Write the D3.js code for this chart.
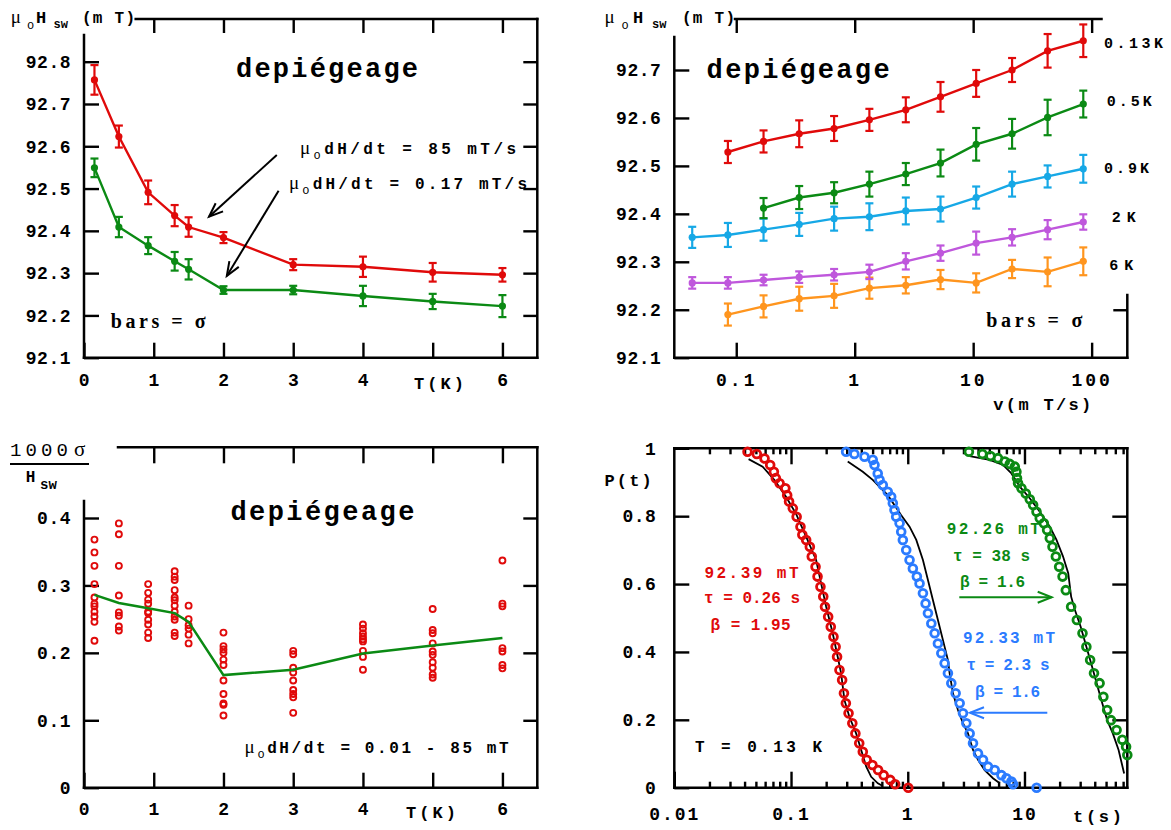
<!DOCTYPE html>
<html><head><meta charset="utf-8">
<script src="https://cdn.jsdelivr.net/npm/d3@7"></script>
<style>body{margin:0;background:#fff}svg{display:block}</style>
</head><body><svg id="c" width="1171" height="830"></svg>
<script>
// ---------- data ----------
// Panel A : switching field vs temperature
const tempA   = [0.15, 0.5, 0.92, 1.3, 1.5, 2, 3, 4, 5, 6];
const hswFast = [92.757, 92.623, 92.491, 92.436, 92.409, 92.384, 92.320, 92.315, 92.302, 92.296];
const errFast = [0.035, 0.026, 0.028, 0.025, 0.023, 0.013, 0.013, 0.024, 0.022, 0.016];
const hswSlow = [92.549, 92.409, 92.365, 92.328, 92.309, 92.260, 92.260, 92.246, 92.233, 92.222];
const errSlow = [0.022, 0.024, 0.020, 0.022, 0.024, 0.009, 0.010, 0.024, 0.018, 0.026];
const ticksT  = [0, 1, 2, 3, 4, 5, 6];
const labelsT = ["0", "1", "2", "3", "4", "", "6"];
const ticksHA = [92.1, 92.2, 92.3, 92.4, 92.5, 92.6, 92.7, 92.8];

// Panel B : switching field vs sweep rate
const sweepRates = [0.0425, 0.085, 0.17, 0.34, 0.67, 1.33, 2.7, 5.3, 10.6, 21.3, 42.5, 85];
const h013 = [null, 92.529, 92.551, 92.567, 92.578, 92.596, 92.617, 92.644, 92.672, 92.700, 92.740, 92.761];
const e013 = [null, 0.023, 0.023, 0.028, 0.026, 0.023, 0.026, 0.031, 0.028, 0.025, 0.035, 0.034];
const h05  = [null, null, 92.412, 92.434, 92.444, 92.462, 92.483, 92.506, 92.545, 92.567, 92.601, 92.629];
const e05  = [null, null, 0.021, 0.024, 0.022, 0.026, 0.023, 0.028, 0.034, 0.031, 0.037, 0.028];
const h09  = [92.351, 92.356, 92.367, 92.378, 92.390, 92.394, 92.406, 92.410, 92.434, 92.462, 92.478, 92.494];
const e09  = [0.022, 0.025, 0.023, 0.024, 0.025, 0.028, 0.028, 0.026, 0.023, 0.026, 0.023, 0.029];
const h2K  = [92.256, 92.256, 92.262, 92.268, 92.273, 92.279, 92.301, 92.318, 92.339, 92.351, 92.367, 92.383];
const e2K  = [0.012, 0.012, 0.011, 0.012, 0.012, 0.015, 0.017, 0.016, 0.024, 0.017, 0.020, 0.016];
const h6K  = [null, 92.190, 92.207, 92.223, 92.229, 92.245, 92.251, 92.263, 92.256, 92.285, 92.279, 92.301];
const e6K  = [null, 0.023, 0.023, 0.025, 0.025, 0.022, 0.017, 0.020, 0.020, 0.019, 0.030, 0.029];
const seriesLabelsB = ["0.13K", "0.5K", "0.9K", "2K", "6K"];
const ticksV  = [0.1, 1, 10, 100];
const labelsV = ["0.1", "1", "10", "100"];
const ticksHB = [92.1, 92.2, 92.3, 92.4, 92.5, 92.6, 92.7];

// Panel C : 1000 sigma / Hsw vs T
const sigmaT = [0.15, 0.5, 0.92, 1.3, 1.5, 2, 3, 4, 5, 6];
const sigmaPoints = [
  [0.368, 0.349, 0.329, 0.302, 0.282, 0.273, 0.269, 0.261, 0.254, 0.246, 0.218],
  [0.392, 0.376, 0.329, 0.285, 0.260, 0.255, 0.239, 0.233],
  [0.302, 0.289, 0.279, 0.273, 0.261, 0.259, 0.249, 0.242, 0.230, 0.222],
  [0.321, 0.313, 0.308, 0.293, 0.282, 0.278, 0.270, 0.261, 0.254, 0.249, 0.230, 0.225],
  [0.270, 0.250, 0.241, 0.236, 0.227, 0.214],
  [0.230, 0.210, 0.205, 0.200, 0.190, 0.182, 0.159, 0.139, 0.125, 0.123, 0.107],
  [0.203, 0.198, 0.178, 0.171, 0.159, 0.145, 0.139, 0.134, 0.111],
  [0.242, 0.236, 0.229, 0.224, 0.220, 0.217, 0.203, 0.194, 0.175],
  [0.265, 0.234, 0.229, 0.214, 0.202, 0.197, 0.186, 0.178, 0.168, 0.163],
  [0.337, 0.273, 0.269, 0.207, 0.202, 0.182, 0.177]
];
const sigmaMean = [0.286, 0.274, 0.266, 0.259, 0.246, 0.167, 0.175, 0.199, 0.211, 0.222];
const ticksSig  = [0, 0.1, 0.2, 0.3, 0.4];
const labelsSig = ["0", "0.1", "0.2", "0.3", "0.4"];

// Panel D : survival probability P(t)
const redT = [0.0424,0.0509,0.0593,0.0663,0.0713,0.0741,0.0798,0.0894,0.0927,0.0962,0.1036,0.1117,0.1205,0.125,0.1348,0.1449,0.1506,0.1622,0.1687,0.1787,0.1888,0.1955,0.208,0.219,0.231,0.241,0.248,0.26,0.274,0.284,0.295,0.311,0.335,0.356,0.384,0.412,0.445,0.498,0.557,0.622,0.708,0.78,1.01];
const redP = [0.99,0.983,0.97,0.951,0.931,0.912,0.897,0.882,0.862,0.843,0.823,0.798,0.769,0.745,0.73,0.71,0.681,0.651,0.622,0.592,0.563,0.533,0.504,0.474,0.445,0.415,0.386,0.347,0.317,0.278,0.249,0.219,0.19,0.16,0.131,0.106,0.082,0.067,0.052,0.037,0.023,0.01,0.0];
const redFitT = [0.0433,0.0571,0.0719,0.0906,0.110,0.1346,0.164,0.181,0.200,0.2275,0.251,0.2686,0.287,0.316,0.361,0.399,0.441,0.486,0.554,0.611];
const redFitP = [0.968,0.946,0.907,0.857,0.808,0.740,0.671,0.602,0.533,0.455,0.386,0.337,0.258,0.209,0.160,0.111,0.062,0.032,0.013,0.005];
const blueT = [0.2965,0.349,0.426,0.501,0.519,0.553,0.573,0.611,0.674,0.721,0.745,0.770,0.796,0.851,0.879,0.908,0.970,1.036,1.106,1.197,1.262,1.349,1.422,1.489,1.592,1.700,1.813,1.939,2.070,2.208,2.361,2.572,2.784,2.972,3.177,3.390,3.622,3.997,4.413,4.872,5.56,6.35,7.00,7.73,7.98,12.7];
const blueP = [0.990,0.983,0.975,0.966,0.951,0.926,0.907,0.892,0.872,0.857,0.838,0.818,0.798,0.779,0.754,0.730,0.700,0.671,0.646,0.622,0.602,0.573,0.543,0.514,0.484,0.455,0.425,0.396,0.367,0.337,0.308,0.278,0.249,0.219,0.190,0.160,0.131,0.101,0.082,0.062,0.052,0.037,0.028,0.018,0.010,0];
const blueFitT = [0.306,0.412,0.501,0.674,0.879,1.036,1.183,1.349,1.489,1.642,1.813,2.070,2.208,2.285,2.438,2.692,2.972,3.281,3.622,3.997,4.561,5.37,6.14];
const blueFitP = [0.961,0.931,0.907,0.862,0.803,0.769,0.730,0.671,0.612,0.553,0.494,0.415,0.376,0.337,0.278,0.229,0.190,0.160,0.111,0.082,0.052,0.028,0.013];
const greenT = [3.34,4.36,5.11,5.93,6.78,7.48,8.26,8.53,8.63,8.81,9.42,10.26,11.10,11.86,12.68,13.52,14.65,15.63,16.48,17.38,18.57,19.82,21.2,22.6,25.1,28.1,31.4,33.9,36.5,39.4,44.0,47.4,51.1,55.1,61.5,68.9,74.2,76];
const greenP = [0.990,0.983,0.977,0.971,0.961,0.954,0.946,0.931,0.912,0.897,0.882,0.867,0.850,0.833,0.813,0.794,0.779,0.759,0.735,0.710,0.681,0.651,0.622,0.582,0.533,0.494,0.455,0.415,0.376,0.337,0.308,0.268,0.229,0.199,0.170,0.141,0.121,0.096];
const greenFitT = [3.39,5.04,6.55,7.73,9.12,11.10,13.52,16.48,18.8,21.4,23.7,25.1,27.0,30.3,33.9,37.9,40.8,45.6,51.1,57.1,64.0,71.4];
const greenFitP = [0.977,0.966,0.951,0.926,0.887,0.853,0.813,0.769,0.730,0.681,0.632,0.563,0.524,0.474,0.415,0.357,0.317,0.258,0.199,0.160,0.111,0.042];
const ticksTime  = [0.01, 0.1, 1, 10];
const labelsTime = ["0.01", "0.1", "1", "10"];
const ticksP  = [0, 0.2, 0.4, 0.6, 0.8, 1];
const labelsP = ["0", "0.2", "0.4", "0.6", "0.8", "1"];

// ---------- styles ----------
const MONO = "'Liberation Mono','DejaVu Sans Mono',monospace";
const SERIF = "'Liberation Serif','DejaVu Serif',serif";
const RED = "#e00a0a", GREEN = "#0b8a14", CYAN = "#16a8e6", PURPLE = "#bf57dc", ORANGE = "#ff951e", BLUE = "#2b7bff";

const svg = d3.select('#c');
svg.append('rect').attr('width', 1171).attr('height', 830).attr('fill', '#fff');
const defs = svg.append('defs');
function marker(id, color) {
  defs.append('marker').attr('id', id).attr('markerUnits', 'userSpaceOnUse')
    .attr('markerWidth', 18).attr('markerHeight', 14).attr('refX', 15).attr('refY', 7)
    .attr('orient', 'auto')
    .append('path').attr('d', 'M1,1.5 L15,7 L1,12.5').attr('fill', 'none')
    .attr('stroke', color).attr('stroke-width', 2);
}
marker('arrK', '#000'); marker('arrG', GREEN); marker('arrB', BLUE);

function styleAxis(sel, fs) {
  sel.select('.domain').remove();
  sel.selectAll('.tick line').attr('stroke', '#000').attr('stroke-width', 2.4);
  sel.selectAll('.tick text').attr('fill', '#000').attr('font-family', MONO)
    .attr('font-weight', 'bold').attr('font-size', fs || 18).attr('letter-spacing', 0.5);
  return sel;
}
function seg(x1, y1, x2, y2, color, w) {
  return svg.append('line').attr('x1', x1).attr('y1', y1).attr('x2', x2).attr('y2', y2)
    .attr('stroke', color || '#000').attr('stroke-width', w || 2.5).attr('stroke-linecap', 'square');
}
function txt(x, y, s, o) {
  o = o || {};
  const t = svg.append('text').attr('x', x).attr('y', y).text(s)
    .attr('font-family', o.family || MONO).attr('font-weight', o.weight || 'bold')
    .attr('font-size', o.size || 16).attr('fill', o.fill || '#000')
    .attr('text-anchor', o.anchor || 'start');
  if (o.len) t.attr('textLength', o.len).attr('lengthAdjust', 'spacing');
  return t;
}
function muText(x, y, rest, len, fill) {
  const t = svg.append('text').attr('x', x).attr('y', y).attr('fill', fill || '#000')
    .attr('textLength', len).attr('lengthAdjust', 'spacing');
  t.append('tspan').text('μ').attr('font-family', SERIF).attr('font-size', 19);
  t.append('tspan').text('o').attr('font-family', MONO).attr('font-size', 12).attr('dy', 5);
  t.append('tspan').text(rest).attr('font-family', MONO).attr('font-weight', 'bold').attr('font-size', 16).attr('dy', -5);
  return t;
}
function hswLabel(p) {
  txt(p.mu, 23, 'μ', { family: SERIF, weight: 'normal', size: 19 });
  txt(p.o, 29, 'o', { weight: 'normal', size: 12 });
  txt(p.H, 23, 'H', { size: 17 });
  txt(p.sw, 28, 'sw', { size: 12 });
  txt(p.mT, 23, '(m T)', { size: 16, len: 53 });
}
function errSeries(xs, ys, es, color, xS, yS) {
  const pts = xs.map((x, i) => ({ x: x, y: ys[i], e: es[i] })).filter(p => p.y != null);
  const g = svg.append('g');
  g.append('path').datum(pts)
    .attr('d', d3.line().x(p => xS(p.x)).y(p => yS(p.y)))
    .attr('fill', 'none').attr('stroke', color).attr('stroke-width', 2.4);
  const eb = g.selectAll('g.eb').data(pts).enter().append('g');
  eb.append('line').attr('x1', p => xS(p.x)).attr('x2', p => xS(p.x))
    .attr('y1', p => yS(p.y - p.e)).attr('y2', p => yS(p.y + p.e))
    .attr('stroke', color).attr('stroke-width', 2.2);
  [1, -1].forEach(s => {
    eb.append('line').attr('x1', p => xS(p.x) - 4).attr('x2', p => xS(p.x) + 4)
      .attr('y1', p => yS(p.y + s * p.e)).attr('y2', p => yS(p.y + s * p.e))
      .attr('stroke', color).attr('stroke-width', 2.2);
  });
  g.selectAll('circle').data(pts).enter().append('circle')
    .attr('cx', p => xS(p.x)).attr('cy', p => yS(p.y)).attr('r', 3.6).attr('fill', color);
}

// ---------- Panel A ----------
const A = { l: 84, r: 537.3, t: 19, b: 357.7 };
const xA = d3.scaleLinear().domain([0, 6.5]).range([A.l, A.r]);
const yA = d3.scaleLinear().domain([92.1, 92.8]).range([A.b, 61.7]);
styleAxis(svg.append('g').attr('transform', `translate(0,${A.b})`)
  .call(d3.axisBottom(xA).tickValues(ticksT).tickFormat((d, i) => labelsT[i]).tickSize(-15).tickSizeOuter(0).tickPadding(16)));
styleAxis(svg.append('g').attr('transform', `translate(0,${A.t})`)
  .call(d3.axisTop(xA).tickValues(ticksT.slice(1)).tickFormat('').tickSize(-14).tickSizeOuter(0)));
styleAxis(svg.append('g').attr('transform', `translate(${A.l},0)`)
  .call(d3.axisLeft(yA).tickValues(ticksHA).tickFormat(d3.format('.1f')).tickSize(-15).tickSizeOuter(0).tickPadding(13)));
styleAxis(svg.append('g').attr('transform', `translate(${A.r},0)`)
  .call(d3.axisRight(yA).tickValues(ticksHA.slice(1)).tickFormat('').tickSize(-14).tickSizeOuter(0)));
seg(A.l, 35, A.l, A.b); seg(A.l, A.b, A.r, A.b); seg(A.r, A.t, A.r, A.b); seg(135.7, A.t, A.r, A.t);
errSeries(tempA, hswFast, errFast, RED, xA, yA);
errSeries(tempA, hswSlow, errSlow, GREEN, xA, yA);
hswLabel({ mu: 10.7, o: 27, H: 36, sw: 53.6, mT: 82 });
txt(439, 389, 'T(K)', { size: 17, anchor: 'middle', len: 50 });
txt(236, 77, 'depiégeage', { size: 27, len: 182 });
muText(300, 154, 'dH/dt = 85 mT/s', 216);
muText(289, 189, 'dH/dt = 0.17 mT/s', 238);
seg(276.8, 155, 209, 216.7, '#000', 2).attr('stroke-linecap', 'butt').attr('marker-end', 'url(#arrK)');
seg(278.6, 190.7, 226.8, 276, '#000', 2).attr('stroke-linecap', 'butt').attr('marker-end', 'url(#arrK)');
txt(110.7, 328, 'bars = σ', { family: SERIF, size: 20, len: 95 });

// ---------- Panel B ----------
const B = { l: 674.3, r: 1127.3, t: 19, b: 357.7 };
const xB = d3.scaleLog().domain([0.03, 200]).range([B.l, B.r]);
const yB = d3.scaleLinear().domain([92.1, 92.7]).range([B.b, 70]);
styleAxis(svg.append('g').attr('transform', `translate(0,${B.b})`)
  .call(d3.axisBottom(xB).tickValues(ticksV).tickFormat((d, i) => labelsV[i]).tickSize(-15).tickSizeOuter(0).tickPadding(16)))
  .selectAll('.tick text').attr('letter-spacing', 3);
styleAxis(svg.append('g').attr('transform', `translate(0,${B.t})`)
  .call(d3.axisTop(xB).tickValues(ticksV).tickFormat('').tickSize(-14).tickSizeOuter(0)));
styleAxis(svg.append('g').attr('transform', `translate(${B.l},0)`)
  .call(d3.axisLeft(yB).tickValues(ticksHB).tickFormat(d3.format('.1f')).tickSize(-15).tickSizeOuter(0).tickPadding(13)));
styleAxis(svg.append('g').attr('transform', `translate(${B.r},0)`)
  .call(d3.axisRight(yB).tickValues([92.2]).tickFormat('').tickSize(-14).tickSizeOuter(0)));
seg(B.l, 37, B.l, B.b); seg(B.l, B.b, B.r, B.b); seg(B.r, 295, B.r, B.b); seg(735, B.t, 1101.5, B.t);
const seriesB = [
  { h: h013, e: e013, c: RED }, { h: h05, e: e05, c: GREEN }, { h: h09, e: e09, c: CYAN },
  { h: h2K, e: e2K, c: PURPLE }, { h: h6K, e: e6K, c: ORANGE }
];
seriesB.slice().reverse().forEach(s => errSeries(sweepRates, s.h, s.e, s.c, xB, yB));
const legPos = [[1104, 48, 59], [1106.7, 106, 45], [1104, 173, 45], [1111.7, 222, 24], [1109.3, 270, 24]];
seriesLabelsB.forEach((l, i) => txt(legPos[i][0], legPos[i][1], l, { size: 15, len: legPos[i][2] }));
hswLabel({ mu: 604.6, o: 621.6, H: 633, sw: 652, mT: 682 });
txt(993.3, 410, 'v(m T/s)', { size: 17, len: 98 });
txt(706.6, 78.3, 'depiégeage', { size: 27, len: 183 });
txt(986.3, 327, 'bars = σ', { family: SERIF, size: 20, len: 96 });

// ---------- Panel C ----------
const C = { l: 84, r: 537.3, t: 447.3, b: 787.7 };
const xC = d3.scaleLinear().domain([0, 6.5]).range([C.l, C.r]);
const yC = d3.scaleLinear().domain([0, 0.4]).range([C.b, 518]);
styleAxis(svg.append('g').attr('transform', `translate(0,${C.b})`)
  .call(d3.axisBottom(xC).tickValues(ticksT).tickFormat((d, i) => labelsT[i]).tickSize(-15).tickSizeOuter(0).tickPadding(14.5)));
styleAxis(svg.append('g').attr('transform', `translate(0,${C.t})`)
  .call(d3.axisTop(xC).tickValues(ticksT.slice(1)).tickFormat('').tickSize(-16).tickSizeOuter(0)));
styleAxis(svg.append('g').attr('transform', `translate(${C.l},0)`)
  .call(d3.axisLeft(yC).tickValues(ticksSig).tickFormat((d, i) => labelsSig[i]).tickSize(-15).tickSizeOuter(0).tickPadding(13)));
styleAxis(svg.append('g').attr('transform', `translate(${C.r},0)`)
  .call(d3.axisRight(yC).tickValues(ticksSig.slice(1)).tickFormat('').tickSize(-14).tickSizeOuter(0)));
seg(C.l, 501, C.l, C.b); seg(C.l, C.b, C.r, C.b); seg(C.r, C.t, C.r, C.b); seg(118, C.t, C.r, C.t);
const scat = [];
sigmaT.forEach((t, i) => sigmaPoints[i].forEach(v => scat.push({ t: t, v: v })));
svg.append('g').selectAll('circle').data(scat).enter().append('circle')
  .attr('cx', d => xC(d.t)).attr('cy', d => yC(d.v)).attr('r', 3)
  .attr('fill', 'none').attr('stroke', RED).attr('stroke-width', 1.9);
svg.append('path').datum(sigmaT.map((t, i) => [t, sigmaMean[i]]))
  .attr('d', d3.line().x(d => xC(d[0])).y(d => yC(d[1])))
  .attr('fill', 'none').attr('stroke', GREEN).attr('stroke-width', 2.5);
txt(10, 456, '1000', { weight: 'normal', size: 19, len: 58 });
txt(74, 456, 'σ', { family: SERIF, weight: 'normal', size: 21 });
seg(10, 464, 89, 464, '#000', 2.2).attr('stroke-linecap', 'butt');
txt(25.7, 482, 'H', { size: 16 });
txt(40, 489, 'sw', { size: 14 });
txt(431, 818, 'T(K)', { size: 17, anchor: 'middle', len: 50 });
txt(230.4, 520, 'depiégeage', { size: 27, len: 184 });
muText(244.6, 753, 'dH/dt = 0.01 - 85 mT', 264);

// ---------- Panel D ----------
const D = { l: 674.3, r: 1127.3, t: 448.3, b: 787.7 };
const xD = d3.scaleLog().domain([0.01, 76]).range([D.l, D.r]);
const yD = d3.scaleLinear().domain([0, 1]).range([D.b, D.t]);
const allTicks = xD.ticks();
const isMajor = v => Math.abs(Math.log10(v) - Math.round(Math.log10(v))) < 1e-6;
const minorTicks = allTicks.filter(v => !isMajor(v));
const majorTicks = ticksTime.slice(1);
styleAxis(svg.append('g').attr('transform', `translate(0,${D.b})`)
  .call(d3.axisBottom(xD).tickValues(ticksTime).tickFormat((d, i) => labelsTime[i]).tickSize(-16).tickSizeOuter(0).tickPadding(19.5)))
  .selectAll('.tick text').attr('letter-spacing', 2);
[D.b, D.t].forEach((yy, k) => {
  const dir = k === 0 ? d3.axisBottom : d3.axisTop;
  styleAxis(svg.append('g').attr('transform', `translate(0,${yy})`)
    .call(dir(xD).tickValues(minorTicks).tickFormat('').tickSize(-6).tickSizeOuter(0)));
  if (k === 1) styleAxis(svg.append('g').attr('transform', `translate(0,${yy})`)
    .call(dir(xD).tickValues(majorTicks).tickFormat('').tickSize(-16).tickSizeOuter(0)));
});
styleAxis(svg.append('g').attr('transform', `translate(${D.l},0)`)
  .call(d3.axisLeft(yD).tickValues(ticksP).tickFormat((d, i) => labelsP[i]).tickSize(-15).tickSizeOuter(0).tickPadding(18)));
styleAxis(svg.append('g').attr('transform', `translate(${D.r},0)`)
  .call(d3.axisRight(yD).tickValues(ticksP.slice(1, 5)).tickFormat('').tickSize(-15).tickSizeOuter(0)));
seg(D.l, D.t, D.l, D.b); seg(D.l, D.b, D.r, D.b); seg(D.r, D.t, D.r, D.b); seg(D.l, D.t, D.r, D.t);
const fitLine = d3.line().x(d => xD(d[0])).y(d => yD(d[1]));
[[redFitT, redFitP], [blueFitT, blueFitP], [greenFitT, greenFitP]].forEach(f => {
  svg.append('path').datum(f[0].map((t, i) => [t, f[1][i]])).attr('d', fitLine)
    .attr('fill', 'none').attr('stroke', '#000').attr('stroke-width', 1.8);
});
[[redT, redP, RED], [blueT, blueP, BLUE], [greenT, greenP, GREEN]].forEach(s => {
  svg.append('g').selectAll('circle').data(s[0].map((t, i) => [t, s[1][i]])).enter().append('circle')
    .attr('cx', d => xD(d[0])).attr('cy', d => yD(d[1])).attr('r', 3.9)
    .attr('fill', 'none').attr('stroke', s[2]).attr('stroke-width', 2.8);
});
txt(604.6, 486, 'P(t)', { size: 17, len: 47 });
txt(1073, 822, 't(s)', { size: 17, len: 49 });
txt(751.5, 578, '92.39 mT', { size: 16, fill: RED, anchor: 'middle', len: 94 });
txt(752, 603, 'τ = 0.26 s', { size: 16, fill: RED, anchor: 'middle', len: 96 });
txt(750.6, 630, 'β = 1.95', { size: 16, fill: RED, anchor: 'middle', len: 80 });
txt(993.3, 534, '92.26 mT', { size: 16, fill: GREEN, anchor: 'middle', len: 93 });
txt(991.5, 561, 'τ = 38 s', { size: 16, fill: GREEN, anchor: 'middle', len: 77 });
txt(992.5, 587, 'β = 1.6', { size: 16, fill: GREEN, anchor: 'middle', len: 65 });
txt(1009, 643, '92.33 mT', { size: 16, fill: BLUE, anchor: 'middle', len: 92 });
txt(1008, 670, 'τ = 2.3 s', { size: 16, fill: BLUE, anchor: 'middle', len: 83 });
txt(1007.5, 697, 'β = 1.6', { size: 16, fill: BLUE, anchor: 'middle', len: 65 });
txt(695, 752, 'T = 0.13 K', { size: 16, len: 127 });
seg(959.3, 597.3, 1051.7, 597.3, GREEN, 2).attr('stroke-linecap', 'butt').attr('marker-end', 'url(#arrG)');
seg(1047.3, 712.7, 970, 712.7, BLUE, 2).attr('stroke-linecap', 'butt').attr('marker-end', 'url(#arrB)');
</script></body></html>
